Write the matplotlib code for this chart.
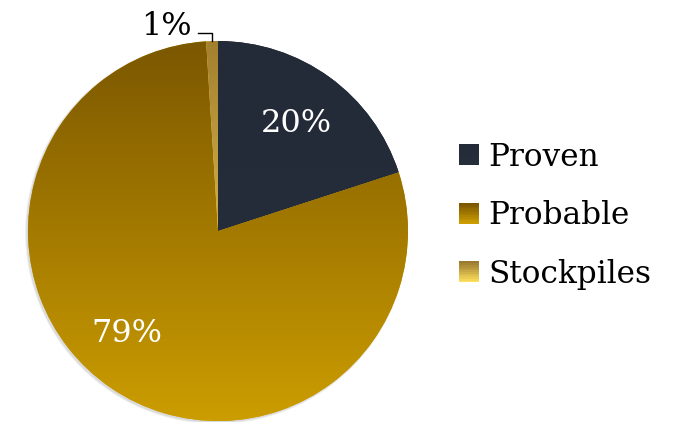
import numpy as np
import matplotlib.pyplot as plt
from matplotlib.colors import LinearSegmentedColormap, to_rgb
from matplotlib.legend_handler import HandlerBase
from matplotlib.patches import Rectangle

# data
categories = ["Proven", "Probable", "Stockpiles"]
shares = [20, 79, 1]
# gradient colours (top, bottom) for each slice
grad_pie = [("#242b38", "#262e3b"), ("#7b5700", "#cc9d00"), ("#a3802e", "#ffe066")]
grad_leg = [("#242b38", "#262e3b"), ("#7b5700", "#cc9d00"), ("#9a7a30", "#fde05c")]

FONT = "DejaVu Serif"

fig = plt.figure(figsize=(6.79, 4.22), dpi=100)
ax = fig.add_axes([0, 0, 1, 1])

cx, cy, r = 218, 191, 190

# soft shadow
for k in range(4):
    sh = plt.Circle((cx - 1.5, cy - 1.5), r + 1.5 - k * 0.5, color="#808080",
                    alpha=0.08, lw=0, zorder=0)
    ax.add_patch(sh)

wedges, _, autotexts = ax.pie(
    shares, center=(cx, cy), radius=r, startangle=90, counterclock=False,
    colors=[g[1] for g in grad_pie], autopct="%1.0f%%", pctdistance=0.7,
    textprops=dict(family=FONT, fontsize=23, color="white"),
    wedgeprops=dict(linewidth=0), frame=True)
ax.set_xlim(0, 679)
ax.set_ylim(0, 422)
ax.set_aspect("equal")
ax.axis("off")

# vertical gradient inside each wedge
grad = np.linspace(0, 1, 256).reshape(-1, 1)
for w, (top, bot) in zip(wedges, grad_pie):
    cmap = LinearSegmentedColormap.from_list("g", [bot, top])
    im = ax.imshow(grad, cmap=cmap, extent=(cx - r, cx + r, cy - r, cy + r),
                   aspect="auto", origin="lower", zorder=1)
    im.set_clip_path(w)
    w.set_zorder(0.5)

# 79% label sits a bit further left in the original
autotexts[1].set_position((cx - 0.48 * r, cy - 0.54 * r))
for t in autotexts:
    t.set_zorder(3)

# small slice: outside label with elbow leader
autotexts[2].set_visible(False)
w = wedges[2]
mid = np.deg2rad((w.theta1 + w.theta2) / 2)
ex, ey = cx + r * np.cos(mid), cy + r * np.sin(mid)
ly = cy + r + 8
ax.plot([ex, ex, ex - 14], [ey, ly, ly], color="black", lw=1, zorder=3)
ax.text(ex - 20, ly - 2, "1%", family=FONT, fontsize=23, color="black",
        ha="right", va="baseline", zorder=3)


class GradHandler(HandlerBase):
    def __init__(self, top, bot):
        super().__init__()
        self.top, self.bot = top, bot

    def create_artists(self, legend, orig_handle, xdescent, ydescent,
                       width, height, fontsize, trans):
        n = 12
        c0, c1 = np.array(to_rgb(self.bot)), np.array(to_rgb(self.top))
        arts = []
        for i in range(n):
            f = i / (n - 1)
            rect = Rectangle((-xdescent, -ydescent + height * i / n), width,
                             height / n + 0.3, facecolor=c0 + (c1 - c0) * f,
                             lw=0, transform=trans)
            arts.append(rect)
        return arts


hmap = {w: GradHandler(t, b) for w, (t, b) in zip(wedges, grad_leg)}
leg = ax.legend(wedges, categories, handler_map=hmap, loc="center left",
                bbox_to_anchor=(459 / 679, 1 - 216 / 422), frameon=False,
                prop=dict(family=FONT, size=22.4), handlelength=0.64,
                handleheight=0.64, handletextpad=0.3, labelspacing=0.88,
                borderaxespad=0, borderpad=0)

fig.savefig("out.png", dpi=100)
